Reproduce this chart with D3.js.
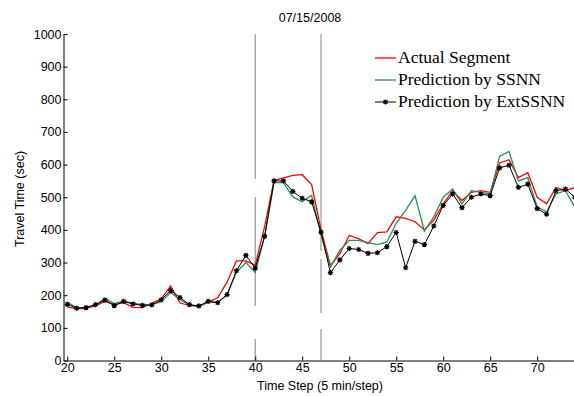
<!DOCTYPE html>
<html>
<head>
<meta charset="utf-8">
<script src="https://cdn.jsdelivr.net/npm/d3@7"></script>
<style>
  body { margin: 0; background: #fff; }
  text { font-family: "Liberation Sans", Arial, sans-serif; }
</style>
</head>
<body>
<div id="chart"></div>
<script>
// time steps 20..74
var steps = d3.range(20, 75);

var actual = [164, 158, 160, 167, 181, 171, 177, 163, 162, 176,
              189, 228, 176, 169, 165, 179, 192, 240, 305, 305,
              292, 410, 552, 559, 567, 569, 539, 400, 291, 327,
              383, 373, 358, 392, 394, 440, 435, 425, 400, 430,
              480, 520, 490, 515, 520, 515, 605, 615, 560, 575,
              500, 480, 530, 520, 530];

var ssnn = [178, 162, 163, 170, 190, 174, 182, 176, 171, 171,
            180, 208, 186, 170, 166, 180, 178, 200, 270, 300,
            270, 380, 545, 545, 501, 486, 506, 385, 286, 337,
            368, 368, 361, 355, 363, 420, 460, 505, 396, 440,
            500, 525, 480, 520, 515, 510, 625, 640, 550, 560,
            470, 455, 510, 520, 470];

var extssnn = [172, 160, 162, 171, 185, 168, 181, 173, 169, 170,
               186, 214, 193, 171, 167, 181, 177, 202, 275, 322,
               283, 380, 550, 550, 518, 497, 486, 393, 269, 308,
               343, 340, 328, 330, 349, 392, 284, 365, 355, 412,
               475, 510, 468, 500, 510, 505, 590, 598, 530, 540,
               465, 448, 520, 525, 500];

var yTicks = [0, 100, 200, 300, 400, 500, 600, 700, 800, 900, 1000];
var xTicks = [20, 25, 30, 35, 40, 45, 50, 55, 60, 65, 70];
var eventSteps = [40, 47];

var seriesNames = ["Actual Segment", "Prediction by SSNN", "Prediction by ExtSSNN"];
var seriesColors = ["#ff0000", "#2e8b57", "#000000"];

var W = 574, H = 396;
var svg = d3.select("#chart").append("svg")
    .attr("width", W)
    .attr("height", H);

var x = d3.scaleLinear().domain([19.6, 74]).range([63.5, 574.8]);
var y = d3.scaleLinear().domain([0, 1000]).range([360.5, 34]);

// dashed event markers (long broken dashes as in the exported figure)
var eventDash = ["145,18,109,33,30", "217,8,54,16,40"];
svg.selectAll("line.event")
    .data(eventSteps)
    .enter()
    .append("line")
    .attr("class", "event")
    .attr("x1", function (d) { return x(d); })
    .attr("x2", function (d) { return x(d); })
    .attr("y1", y(1000))
    .attr("y2", y(0))
    .attr("stroke", "#a0a0a0")
    .attr("stroke-width", 1.3)
    .attr("stroke-dasharray", function (d, i) { return eventDash[i]; });

var line = d3.line()
    .x(function (d, i) { return x(steps[i]); })
    .y(function (d) { return y(d); });

svg.append("path").datum(actual)
    .attr("fill", "none").attr("stroke", seriesColors[0]).attr("stroke-width", 1.3)
    .attr("d", line);
svg.append("path").datum(ssnn)
    .attr("fill", "none").attr("stroke", seriesColors[1]).attr("stroke-width", 1.3)
    .attr("d", line);
svg.append("path").datum(extssnn)
    .attr("fill", "none").attr("stroke", seriesColors[2]).attr("stroke-width", 1)
    .attr("d", line);

// matlab style asterisk marker
var star = "M-2.6,0H2.6M0,-2.6V2.6M-1.9,-1.9L1.9,1.9M-1.9,1.9L1.9,-1.9";
svg.selectAll("path.mk")
    .data(extssnn)
    .enter()
    .append("path")
    .attr("class", "mk")
    .attr("transform", function (d, i) { return "translate(" + x(steps[i]) + "," + y(d) + ")"; })
    .attr("d", star)
    .attr("stroke", "#000")
    .attr("stroke-width", 1.2);

// axes, ticks pointing inward
var xAxis = svg.append("g")
    .attr("transform", "translate(0," + y(0) + ")")
    .call(d3.axisBottom(x).tickValues(xTicks).tickFormat(d3.format("d"))
        .tickSizeInner(-4).tickSizeOuter(0).tickPadding(3));
var yAxis = svg.append("g")
    .attr("transform", "translate(" + x(19.6) + ",0)")
    .call(d3.axisLeft(y).tickValues(yTicks).tickFormat(d3.format("d"))
        .tickSizeInner(-4).tickSizeOuter(0).tickPadding(2));

[xAxis, yAxis].forEach(function (g) {
    g.selectAll("text").style("font-size", "12.5px").attr("fill", "#000");
    g.select(".domain").attr("stroke", "#000").attr("stroke-width", 1);
    g.selectAll(".tick line").attr("stroke", "#000");
});

svg.append("text")
    .attr("x", 310).attr("y", 22)
    .attr("text-anchor", "middle")
    .style("font-size", "12.5px")
    .text("07/15/2008");

svg.append("text")
    .attr("x", 320).attr("y", 390)
    .attr("text-anchor", "middle")
    .style("font-size", "12.5px")
    .text("Time Step (5 min/step)");

svg.append("text")
    .attr("transform", "translate(24,199) rotate(-90)")
    .attr("text-anchor", "middle")
    .style("font-size", "12.5px")
    .text("Travel Time (sec)");

// legend
var legend = svg.append("g").attr("transform", "translate(375,58)");
var items = legend.selectAll("g")
    .data(seriesNames)
    .enter()
    .append("g")
    .attr("transform", function (d, i) { return "translate(0," + i * 22 + ")"; });
items.append("line")
    .attr("x1", 0).attr("x2", 21)
    .attr("stroke", function (d, i) { return seriesColors[i]; })
    .attr("stroke-width", function (d, i) { return i === 2 ? 1 : 1.3; });
items.filter(function (d, i) { return i === 2; })
    .append("path")
    .attr("transform", "translate(10.5,0)")
    .attr("d", star)
    .attr("stroke", "#000")
    .attr("stroke-width", 1.2);
items.append("text")
    .attr("x", 23).attr("y", 5)
    .style("font-family", "'Liberation Serif', 'Times New Roman', serif")
    .style("font-size", "17.5px")
    .text(function (d) { return d; });
</script>
</body>
</html>
